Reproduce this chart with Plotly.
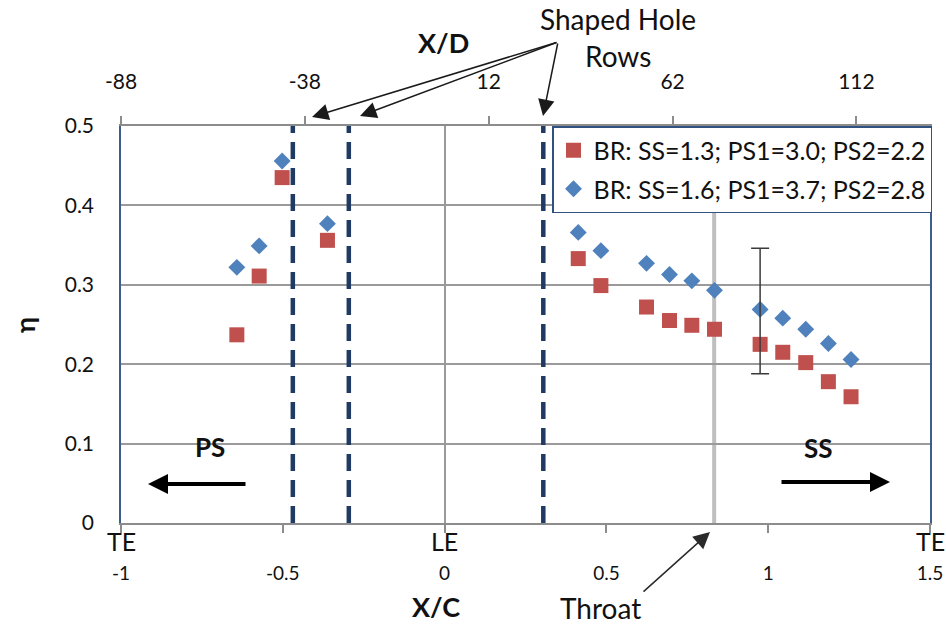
import plotly.graph_objects as go

# ---------------- data ----------------
XC = [-0.642, -0.573, -0.502, -0.362, 0.413, 0.483, 0.624, 0.695, 0.764,
      0.834, 0.975, 1.045, 1.116, 1.186, 1.256]
ETA_BR_LOW = [0.237, 0.311, 0.435, 0.356, 0.333, 0.299, 0.272, 0.255, 0.249,
              0.244, 0.225, 0.215, 0.202, 0.178, 0.159]
ETA_BR_HIGH = [0.322, 0.349, 0.456, 0.377, 0.366, 0.343, 0.327, 0.313, 0.305,
               0.293, 0.269, 0.258, 0.244, 0.226, 0.206]
NAME_LOW = "BR: SS=1.3; PS1=3.0; PS2=2.2"
NAME_HIGH = "BR: SS=1.6; PS1=3.7; PS2=2.8"

ERR_INDEX = 10
ERR_PLUS = [0.077]
ERR_MINUS = [0.081]

HOLE_ROWS_XC = [-0.469, -0.296, 0.305]
THROAT_XC = 0.833

XC_RANGE = [-1, 1.5]
XC_TICKS = [-1, -0.5, 0, 0.5, 1, 1.5]
XC_TICKTEXT = ["-1", "-0.5", "0", "0.5", "1", "1.5"]
XD_RANGE = [-88, 132]
XD_TICKS = [-88, -38, 12, 62, 112]
XD_TICKTEXT = ["-88", "-38", "12", "62", "112"]
ETA_RANGE = [0, 0.5]
ETA_TICKS = [0, 0.1, 0.2, 0.3, 0.4, 0.5]
ETA_TICKTEXT = ["0", "0.1", "0.2", "0.3", "0.4", "0.5"]
EDGE_LABELS = ["TE", "LE", "TE"]
EDGE_XC = [-1, 0, 1.5]

# ---------------- layout helpers ----------------
W, H = 946, 630
L, R, T, B = 121, 16, 126, 107
PW, PH = W - L - R, H - T - B
FONT = "Lato, 'Noto Sans', sans-serif"
RED = "#C0504D"
BLUE = "#4F81BD"
NAVY = "#1F3B63"
GRID = "#9A9A9A"


def px(x):
    return (x - L) / PW


def py(y):
    return (H - B - y) / PH


fig = go.Figure()

fig.add_trace(go.Scatter(
    x=XC, y=ETA_BR_LOW, mode="markers", name=NAME_LOW, legendgroup="a",
    marker=dict(symbol="square", size=15, color=RED),
))
fig.add_trace(go.Scatter(
    x=XC, y=ETA_BR_HIGH, mode="markers", name=NAME_HIGH, legendgroup="b",
    marker=dict(symbol="diamond", size=13, color=BLUE),
))
fig.add_trace(go.Scatter(
    x=[XC[ERR_INDEX]], y=[ETA_BR_HIGH[ERR_INDEX]], mode="markers",
    marker=dict(size=4, color="rgba(0,0,0,0)"), showlegend=False,
    hoverinfo="skip",
    error_y=dict(type="data", symmetric=False, array=ERR_PLUS,
                 arrayminus=ERR_MINUS, color="#3a3a3a", thickness=1.5, width=9),
))
# carrier trace for the top X/D axis
fig.add_trace(go.Scatter(
    x=XD_TICKS, y=[None] * len(XD_TICKS), xaxis="x2", mode="markers",
    showlegend=False, hoverinfo="skip",
))

shapes = []
shapes.append(dict(type="line", xref="x", yref="y", x0=THROAT_XC, x1=THROAT_XC,
                   y0=ETA_RANGE[0], y1=ETA_RANGE[1],
                   line=dict(color="#BFBFBF", width=4), layer="below"))
for xv in HOLE_ROWS_XC:
    shapes.append(dict(type="line", xref="x", yref="y", x0=xv, x1=xv,
                       y0=ETA_RANGE[0], y1=ETA_RANGE[1],
                       line=dict(color=NAVY, width=4.5, dash="17px,9px"),
                       layer="above"))

ann = []
txt = dict(family=FONT, color="#111")


def label(text, x, y, size, xref="paper", angle=0):
    ann.append(dict(text=text, xref=xref, yref="paper", x=x, y=y,
                    showarrow=False, textangle=angle,
                    xanchor="center", yanchor="middle",
                    font=dict(size=size, **txt)))


def arrow(hx, hy, tx, ty, width, size, color):
    ann.append(dict(text="", xref="paper", yref="paper", x=px(hx), y=py(hy),
                    ax=tx - hx, ay=ty - hy, showarrow=True, arrowhead=2,
                    arrowsize=size, arrowwidth=width, arrowcolor=color))


for lab, xv in zip(EDGE_LABELS, EDGE_XC):
    label(lab, xv, py(541), 25, xref="x")
label("<b>X/C</b>", px(436), py(606), 27)
label("<b>X/D</b>", px(443), py(42), 27)
label("<b>η</b>", px(24), py(325), 27, angle=-90)
label("Shaped Hole", px(618), py(19), 28)
label("Rows", px(618), py(56), 28)
for hx, hy in [(312, 117), (360, 116), (543, 116)]:
    arrow(hx, hy, 558, 42, 1.5, 2.2, "#1a1a1a")
label("Throat", px(600), py(608), 28)
arrow(710, 532, 642, 593, 1.5, 2.2, "#2a2a2a")
label("<b>PS</b>", px(210), py(447), 26)
label("<b>SS</b>", px(818), py(448), 26)
arrow(148, 484, 247, 484, 4, 1, "#000")
arrow(890, 482, 780, 482, 4, 1, "#000")

fig.update_layout(
    width=W, height=H,
    margin=dict(l=L, r=R, t=T, b=B, pad=0, autoexpand=False),
    paper_bgcolor="white", plot_bgcolor="white",
    font=dict(family=FONT, size=21, color="#111"),
    showlegend=True,
    legend=dict(x=px(552), y=1.0, xanchor="left", yanchor="top",
                bgcolor="white", bordercolor="#2F5280", borderwidth=1.5,
                font=dict(family=FONT, size=25, color="#111"),
                tracegroupgap=3, itemwidth=30),
    xaxis=dict(range=XC_RANGE, tickvals=XC_TICKS, ticktext=XC_TICKTEXT,
               ticks="outside", ticklen=8, tickwidth=1.5, tickcolor="#8c8c8c",
               showline=True, linecolor="#8c8c8c", linewidth=2,
               showgrid=False, zeroline=True, zerolinecolor=GRID,
               zerolinewidth=1.5, ticklabelstandoff=24, automargin=False,
               tickfont=dict(family=FONT, size=19, color="#111")),
    xaxis2=dict(range=XD_RANGE, overlaying="x", side="top",
                tickvals=XD_TICKS, ticktext=XD_TICKTEXT,
                ticks="outside", ticklen=8, tickwidth=1.5, tickcolor="#8c8c8c",
                showline=True, linecolor="#8c8c8c", linewidth=2,
                showgrid=False, zeroline=False, ticklabelstandoff=19,
                automargin=False,
                tickfont=dict(family=FONT, size=21, color="#111")),
    yaxis=dict(range=ETA_RANGE, tickvals=ETA_TICKS, ticktext=ETA_TICKTEXT,
               ticks="", showgrid=True, gridcolor=GRID, gridwidth=1.5,
               zeroline=False, showline=True, linecolor="#3A5F8C",
               linewidth=1.5, mirror=True, ticklabelstandoff=21,
               automargin=False,
               tickfont=dict(family=FONT, size=21, color="#111")),
    shapes=shapes,
    annotations=ann,
)

fig.write_html("out.html",
               config={"displayModeBar": False},
               post_script="document.body.style.margin='0px';"
                           "document.body.style.overflow='hidden';")
